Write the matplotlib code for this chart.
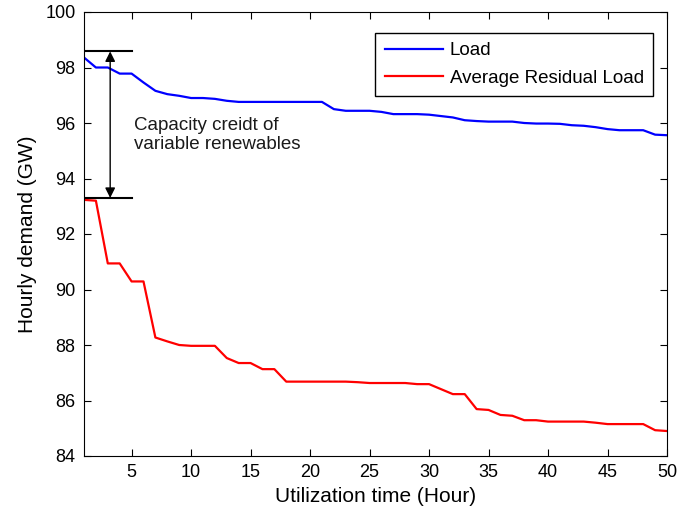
import numpy as np
import matplotlib.pyplot as plt

plt.rcParams['font.family'] = ['Liberation Sans', 'DejaVu Sans']

hours = np.arange(1, 51)
load = [98.36, 98.0, 98.0, 97.78, 97.78, 97.46, 97.16, 97.04, 96.98, 96.9,
        96.9, 96.87, 96.8, 96.76, 96.76, 96.76, 96.76, 96.76, 96.76, 96.76,
        96.76, 96.5, 96.44, 96.44, 96.44, 96.4, 96.32, 96.32, 96.32, 96.3,
        96.25, 96.2, 96.1, 96.07, 96.05, 96.05, 96.05, 96.0, 95.98, 95.98,
        95.97, 95.92, 95.9, 95.85, 95.78, 95.74, 95.74, 95.74, 95.58, 95.56]
residual = [93.23, 93.2, 90.94, 90.94, 90.29, 90.29, 88.27, 88.13, 88.0, 87.97,
            87.97, 87.97, 87.53, 87.35, 87.35, 87.13, 87.13, 86.68, 86.68, 86.68,
            86.68, 86.68, 86.68, 86.66, 86.63, 86.63, 86.63, 86.63, 86.59, 86.59,
            86.41, 86.23, 86.23, 85.69, 85.66, 85.48, 85.45, 85.29, 85.29, 85.24,
            85.24, 85.24, 85.24, 85.2, 85.15, 85.15, 85.15, 85.15, 84.93, 84.9]

# capacity credit markers: top of load and top of residual load
cc_top = 98.58
cc_bottom = 93.3

fig = plt.figure(figsize=(6.78, 5.19), dpi=100)
ax = fig.add_axes([84 / 678, 1 - 456 / 519, (667 - 84) / 678, (456 - 12) / 519])

ax.plot(hours, load, color='#0000ff', lw=1.6, label='Load')
ax.plot(hours, residual, color='#ff0000', lw=1.6, label='Average Residual Load')

ax.plot([1, 5], [cc_top, cc_top], color='black', lw=1.5)
ax.plot([1, 5], [cc_bottom, cc_bottom], color='black', lw=1.5)
ax.annotate('', xy=(3.2, cc_bottom), xytext=(3.2, cc_top),
            arrowprops=dict(arrowstyle='<|-|>', color='black', lw=1,
                            mutation_scale=15, shrinkA=0, shrinkB=0))
ax.text(5.2, 95.57, 'Capacity creidt of\nvariable renewables', fontsize=13.5,
        va='center', ha='left', linespacing=1.2, color='#1a1a1a')

ax.set_xlim(1, 50)
ax.set_ylim(84, 100)
ax.set_xticks(np.arange(5, 51, 5))
ax.set_yticks(np.arange(84, 101, 2))
ax.tick_params(direction='in', top=True, right=True, labelsize=13, length=5,
               pad=6)
ax.set_xlabel('Utilization time (Hour)', fontsize=15, labelpad=4)
ax.set_ylabel('Hourly demand (GW)', fontsize=15, labelpad=6)

ax.legend(loc='upper right', fontsize=13.5, frameon=True, fancybox=False,
          edgecolor='black', framealpha=1, handlelength=3.1,
          handletextpad=0.35, labelspacing=0.55, borderpad=0.5,
          borderaxespad=0, bbox_to_anchor=(0.976, 0.953))

plt.savefig('out.png')
